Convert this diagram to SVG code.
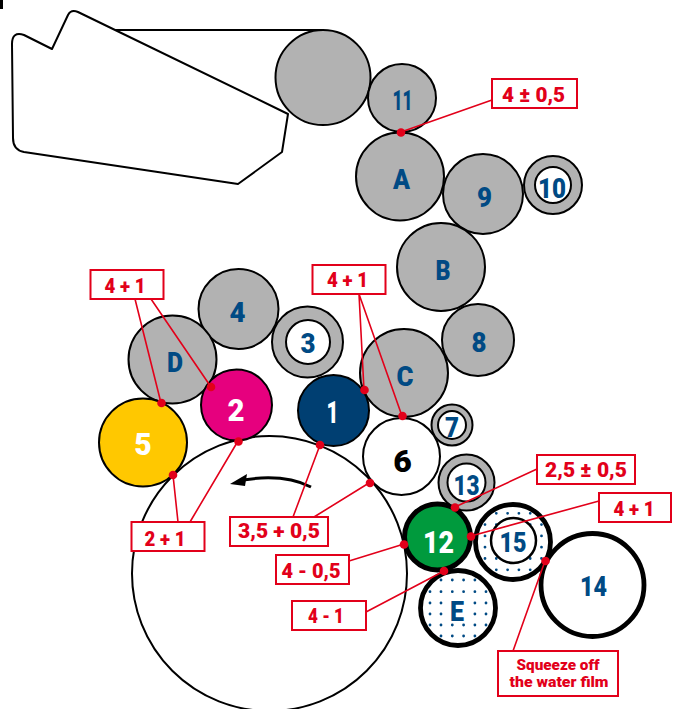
<svg xmlns="http://www.w3.org/2000/svg" width="675" height="709" viewBox="0 0 675 709">
<style>
.k{stroke:#000;stroke-width:2}
.g{fill:#b2b2b2}
.w{fill:#fff}
.thick{stroke:#000;stroke-width:4.800;fill:#fff}
.t{font-family:Roboto,"Liberation Sans",sans-serif;font-weight:900;text-anchor:middle}
.b{fill:#004a84;font-size:28px}
.n{fill:#fff;font-size:32px}
.lb{fill:#fff;stroke:#e2001a;stroke-width:2}
.lt{fill:#e2001a;font-size:20px}
.ls{fill:#e2001a;font-size:14.500px}
.ln{stroke:#e2001a;stroke-width:1.600;fill:none}
.d{fill:#e2001a}
.dt{stroke:#004a84;stroke-width:2.800;stroke-linecap:round;fill:none}
</style>
<rect id="mark" x="0" y="0" width="3" height="9" fill="#000"/>
<g id="blanket">
<path d="M115 30H323" class="k" fill="none"/>
<path d="M24 35L52 49L68 15Q71 9 78 12L288 114L282 152L238 184L24 152Q13 150 13 138L12 44Q12 31 24 35Z" class="k w" stroke-linejoin="round"/>
</g>
<g id="cylinder-top"><circle cx="323" cy="77.500" r="47.500" class="k g"/></g>
<g id="cylinder-impression"><circle cx="269.500" cy="573.500" r="137.500" class="k w"/></g>
<g id="arrow">
<path d="M311 487C293 478 268 476 243 480" fill="none" stroke="#000" stroke-width="3"/>
<path d="M230 484L247 474L245 486Z" fill="#000"/>
</g>
<g id="roller-11"><circle cx="402" cy="98" r="34" class="k g"/><text x="402.500" y="110" class="t b" textLength="20" lengthAdjust="spacingAndGlyphs">11</text></g>
<g id="roller-A"><circle cx="400" cy="176.500" r="44" class="k g"/><text x="401.500" y="189" class="t b" textLength="17" lengthAdjust="spacingAndGlyphs">A</text></g>
<g id="roller-9"><circle cx="483" cy="194" r="40" class="k g"/><text x="484.500" y="207" class="t b" textLength="15" lengthAdjust="spacingAndGlyphs">9</text></g>
<g id="roller-10"><circle cx="553" cy="185" r="29" class="k g"/><circle cx="553" cy="185" r="18" class="k w"/><text x="552" y="198" class="t b" textLength="28" lengthAdjust="spacingAndGlyphs">10</text></g>
<g id="roller-B"><circle cx="441" cy="267" r="44" class="k g"/><text x="443" y="280" class="t b" textLength="15" lengthAdjust="spacingAndGlyphs">B</text></g>
<g id="roller-8"><circle cx="478" cy="340" r="36" class="k g"/><text x="479" y="351.500" class="t b" textLength="15" lengthAdjust="spacingAndGlyphs">8</text></g>
<g id="roller-C"><circle cx="404" cy="373" r="44" class="k g"/><text x="405" y="386" class="t b" textLength="17" lengthAdjust="spacingAndGlyphs">C</text></g>
<g id="roller-4"><circle cx="238.500" cy="309" r="40" class="k g"/><text x="237.500" y="321.500" class="t b" textLength="16" lengthAdjust="spacingAndGlyphs">4</text></g>
<g id="roller-3"><circle cx="307.500" cy="342" r="35.500" class="k g"/><circle cx="308" cy="342" r="22" class="k w"/><text x="308" y="353" class="t b" textLength="15" lengthAdjust="spacingAndGlyphs">3</text></g>
<g id="roller-D"><circle cx="172.500" cy="359.500" r="44" class="k g"/><text x="175" y="371.500" class="t b" textLength="16" lengthAdjust="spacingAndGlyphs">D</text></g>
<g id="roller-5"><circle cx="143" cy="442.500" r="44" class="k" fill="#ffc800"/><text x="143" y="455" class="t n" textLength="17.500" lengthAdjust="spacingAndGlyphs">5</text></g>
<g id="roller-2"><circle cx="236.500" cy="405" r="35.500" class="k" fill="#e6007e"/><text x="236" y="421" class="t n" textLength="17" lengthAdjust="spacingAndGlyphs">2</text></g>
<g id="roller-1"><circle cx="333.500" cy="410.500" r="35.500" class="k" fill="#003f72"/><text x="332.500" y="422.500" class="t n" textLength="12" lengthAdjust="spacingAndGlyphs">1</text></g>
<g id="roller-6"><circle cx="401.500" cy="456.500" r="38.500" class="k w"/><text x="402.500" y="471.500" class="t" font-size="32" fill="#000">6</text></g>
<g id="roller-7"><circle cx="452" cy="425" r="20.500" class="k g"/><circle cx="452" cy="425" r="14" class="k w"/><text x="452" y="436.500" class="t b" textLength="14" lengthAdjust="spacingAndGlyphs">7</text></g>
<g id="roller-13"><circle cx="466.500" cy="482.500" r="28" class="k g"/><circle cx="466.500" cy="482.500" r="19" class="k w"/><text x="466.500" y="495" class="t b" textLength="26" lengthAdjust="spacingAndGlyphs">13</text></g>
<g id="roller-E"><circle cx="458" cy="608" r="37.500" class="thick"/>
<path class="dt" d="M441 580h0M452.300 580h0M463.600 580h0M474.900 580h0M430 591.700h0M441 591.700h0M452.300 591.700h0M463.600 591.700h0M474.900 591.700h0M486 591.700h0M430 603h0M441 603h0M474.900 603h0M486 603h0M430 614h0M441 614h0M474.900 614h0M486 614h0M430 625h0M441 625h0M452.300 625h0M463.600 625h0M474.900 625h0M486 625h0M441 636h0M452.300 636h0M463.600 636h0M474.900 636h0"/>
<text x="457" y="621" class="t b" textLength="14" lengthAdjust="spacingAndGlyphs">E</text></g>
<g id="roller-15"><circle cx="513" cy="542" r="37.500" class="thick"/>
<path class="dt" d="M496.300 513.300h0M507.600 513.300h0M518.900 513.300h0M530.200 513.300h0M485 524.600h0M496.300 524.600h0M530.200 524.600h0M541.500 524.600h0M485 535.900h0M541.500 535.900h0M485 547.200h0M541.500 547.200h0M485 558.500h0M496.300 558.500h0M530.200 558.500h0M541.500 558.500h0M496.300 569.800h0M507.600 569.800h0M518.900 569.800h0M530.200 569.800h0"/>
<circle cx="513.500" cy="540.500" r="22.500" stroke="#000" stroke-width="2.500" class="w"/><text x="513" y="552" class="t b" textLength="27" lengthAdjust="spacingAndGlyphs">15</text></g>
<g id="roller-14"><circle cx="592.500" cy="585" r="51.500" class="thick"/><text x="593.500" y="595.500" class="t b" textLength="27" lengthAdjust="spacingAndGlyphs">14</text></g>
<g id="roller-12"><circle cx="437.500" cy="537" r="33" fill="#009a3d" stroke="#000" stroke-width="5"/><text x="438.500" y="553" class="t n" textLength="31" lengthAdjust="spacingAndGlyphs">12</text></g>
<g id="connectors">
<path class="ln" d="M401 132L492 100M455 507L537 469M471 536L599 501M545 561L513 651M135 299L161 403M151 299L211 387M359 294L364 390M359 294L402 416M178 522L173 475M190 522L238 441M293 517L320 445M314 517L369 483M349 561L404 544M366 612L444 571"/>
<g class="d">
<circle cx="401" cy="132.500" r="4.300"/><circle cx="455" cy="507.500" r="4.300"/><circle cx="471" cy="536.500" r="4.300"/><circle cx="545.500" cy="561" r="4.300"/><circle cx="444" cy="571" r="4.300"/><circle cx="404" cy="544.500" r="4.300"/><circle cx="370" cy="483" r="4.300"/><circle cx="320" cy="445" r="4.300"/><circle cx="238.500" cy="441.500" r="4.300"/><circle cx="173" cy="475" r="4.300"/><circle cx="161.500" cy="403" r="4.300"/><circle cx="211" cy="387" r="4.300"/><circle cx="364.500" cy="390" r="4.300"/><circle cx="402.500" cy="416" r="4.300"/>
</g>
</g>
<g id="label-a"><rect x="492" y="79" width="85" height="29" class="lb"/><text x="533.500" y="101.500" class="t lt" textLength="63" lengthAdjust="spacingAndGlyphs">4 ± 0,5</text></g>
<g id="label-b"><rect x="537" y="455" width="98" height="29" class="lb"/><text x="586" y="476.500" class="t lt" textLength="82" lengthAdjust="spacingAndGlyphs">2,5 ± 0,5</text></g>
<g id="label-c"><rect x="599" y="493" width="72" height="29" class="lb"/><text x="634" y="516" class="t lt" textLength="41" lengthAdjust="spacingAndGlyphs">4 + 1</text></g>
<g id="label-d"><rect x="498" y="651" width="120" height="45" class="lb"/><text x="558" y="669.500" class="t ls" textLength="83" lengthAdjust="spacingAndGlyphs">Squeeze off</text><text x="559" y="687" class="t ls" textLength="99" lengthAdjust="spacingAndGlyphs">the water film</text></g>
<g id="label-e"><rect x="90.500" y="270" width="73" height="29" class="lb"/><text x="125" y="293" class="t lt" textLength="41" lengthAdjust="spacingAndGlyphs">4 + 1</text></g>
<g id="label-f"><rect x="312.500" y="265" width="73" height="29" class="lb"/><text x="347.500" y="286.500" class="t lt" textLength="41" lengthAdjust="spacingAndGlyphs">4 + 1</text></g>
<g id="label-g"><rect x="131.500" y="522" width="73" height="29" class="lb"/><text x="165" y="545.500" class="t lt" textLength="41" lengthAdjust="spacingAndGlyphs">2 + 1</text></g>
<g id="label-h"><rect x="230" y="517" width="98" height="29" class="lb"/><text x="279" y="538" class="t lt" textLength="82" lengthAdjust="spacingAndGlyphs">3,5 + 0,5</text></g>
<g id="label-i"><rect x="276" y="555" width="73" height="29" class="lb"/><text x="311" y="577.500" class="t lt" textLength="59" lengthAdjust="spacingAndGlyphs">4 - 0,5</text></g>
<g id="label-j"><rect x="292" y="601" width="74" height="29" class="lb"/><text x="326" y="623" class="t lt" textLength="36" lengthAdjust="spacingAndGlyphs">4 - 1</text></g>
</svg>
